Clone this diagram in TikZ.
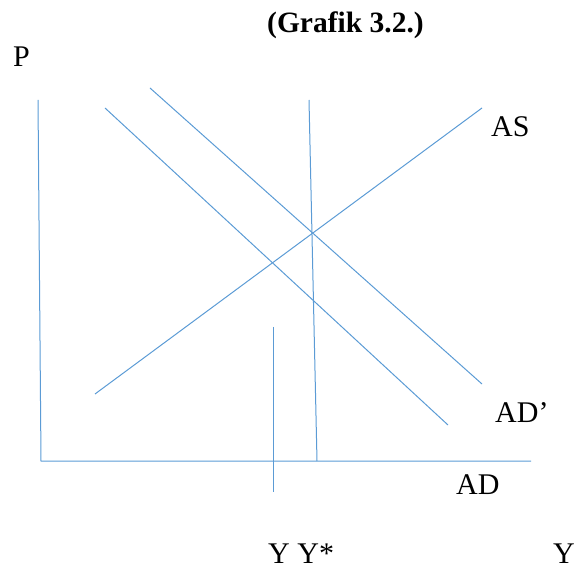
\documentclass[tikz,border=0pt]{standalone}
\usepackage{fontspec}
\setmainfont{Liberation Serif}
\definecolor{linecol}{HTML}{5B9BD5}
\begin{document}
\begin{tikzpicture}[x=1pt,y=-1pt,
  curve/.style={draw=linecol, line width=1pt},
  lbl/.style={inner sep=0pt, anchor=base west, font=\fontsize{30}{32}\selectfont}]
\useasboundingbox (0,0) rectangle (576,569);
% axes
\coordinate (ytop) at (38,100);
\coordinate (orig) at (41,461);
\coordinate (xend) at (531,461);
\draw[curve] (ytop) -- (orig) -- (xend);
% AS
\coordinate (as1) at (95,394);
\coordinate (as2) at (482,108);
\draw[curve] (as1) -- (as2);
% AD
\coordinate (ad1) at (105,108);
\coordinate (ad2) at (448,425);
\draw[curve] (ad1) -- (ad2);
% AD'
\coordinate (adp1) at (150,88);
\coordinate (adp2) at (482,384);
\draw[curve] (adp1) -- (adp2);
% Y*
\coordinate (ys1) at (309,100);
\coordinate (ys2) at (317,461);
\draw[curve] (ys1) -- (ys2);
% Y
\coordinate (y1) at (273,327);
\coordinate (y2) at (273,492);
\draw[curve] (y1) -- (y2);
% labels
\node[lbl, font=\fontsize{29.5}{32}\selectfont\bfseries] (title) at (267,33) {(Grafik 3.2.)};
\node[lbl] (P) at (13,67) {P};
\node[lbl] (AS) at (491,137) {AS};
\node[lbl] (ADp) at (495,423) {AD’};
\node[lbl] (AD) at (456,494) {AD};
\node[lbl] (YY) at (268,563) {Y Y*};
\node[lbl] (Yr) at (553,563) {Y};
\end{tikzpicture}
\end{document}
